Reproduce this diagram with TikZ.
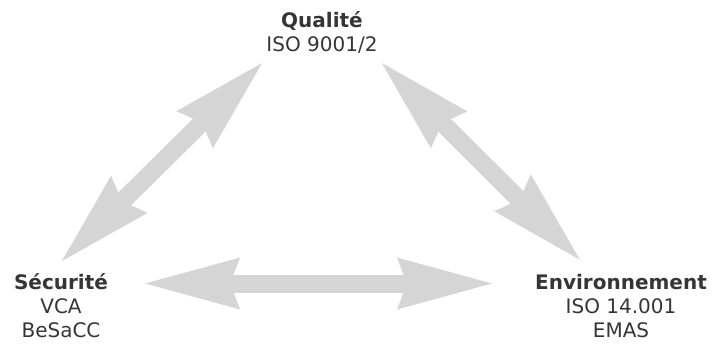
\documentclass[tikz,border=0pt]{standalone}
\usepackage{fontspec}
\setmainfont{DejaVu Sans}
\usepackage{xcolor}
\usetikzlibrary{arrows.meta}
\definecolor{arrowgray}{HTML}{D5D5D5}
\definecolor{textgray}{HTML}{353535}

\begin{document}
\begin{tikzpicture}[x=1pt, y=-1pt,
  lbl/.style={font=\fontsize{20}{24}\selectfont, text=textgray, inner sep=0pt, anchor=base, text height=15pt, text depth=4pt},
  title/.style={lbl, font=\fontsize{20}{24}\selectfont\bfseries},
  sub/.style={font=\fontsize{20}{24}\selectfont, text=textgray, inner sep=0pt, anchor=base, align=center},
  arr/.style={draw=arrowgray, line width=18pt, {Stealth[length=95pt, width=52pt, inset=10pt, line width=0pt]}-{Stealth[length=95pt, width=52pt, inset=10pt, line width=0pt]}}]
\useasboundingbox (0,0) rectangle (712,343);
\node[title] (qual) at (322,27) {Qualité};
\node[lbl] (qualsub) at (322,51) {ISO 9001/2};
\node[title] (secu) at (61,289) {Sécurité};
\node[sub] (secusub) at (61,337) {VCA\\BeSaCC};
\node[title] (env) at (621,289) {Environnement};
\node[sub] (envsub) at (621,337) {ISO 14.001\\EMAS};
\draw[arr, shorten <=18pt, shorten >=11pt] ([xshift=-12pt]secu.north) -- ([xshift=-52pt]qualsub.south);
\draw[arr, shorten <=11pt, shorten >=20pt] ([xshift=52pt]qualsub.south) -- ([xshift=-27pt]env.north);
\draw[arr, shorten <=37pt, shorten >=43pt] (secu.east) -- (env.west);
\end{tikzpicture}
\end{document}
